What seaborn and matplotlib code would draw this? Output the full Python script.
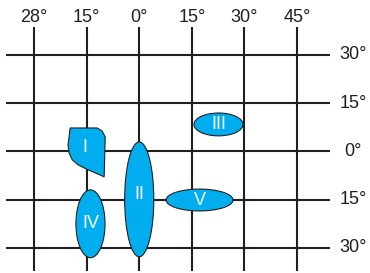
import matplotlib.pyplot as plt
import seaborn as sns
from matplotlib.patches import Ellipse, Polygon

# grid lines (longitude / latitude) and their labels
lon_ticks = [-30, -15, 0, 15, 30, 45]
lon_labels = ["28°", "15°", "0°", "15°", "30°", "45°"]
lat_ticks = [30, 15, 0, -15, -30]
lat_labels = ["30°", "15°", "0°", "15°", "30°"]

# elliptical regions
region_names = ["II", "III", "IV", "V"]
region_x = [0.0, 22.6, -13.9, 17.2]
region_y = [-14.9, 8.4, -22.5, -15.1]
region_w = [8.3, 14.0, 8.3, 19.1]
region_h = [35.7, 7.1, 21.1, 6.8]
label_y_shift = [1.4, 0.0, 0.0, 0.0]

# region I outline
region1_lon = [-19.7, -12.0, -10.6, -9.7, -10.0, -11.2, -14.6, -17.4, -19.1, -20.0, -20.3]
region1_lat = [7.3, 7.3, 6.4, 4.5, -7.9, -7.3, -5.7, -4.2, -2.6, -0.5, 2.0]
region1_label = (-15.4, 1.2)

sns.set_style("white")
plt.rcParams['font.family'] = ['Liberation Sans', 'DejaVu Sans']

fill = "#00aeef"
ink = "#231f20"

fig = plt.figure(figsize=(3.7, 2.73), dpi=100)
ax = fig.add_axes([0, 0, 1, 1])
ax.set_xlim(-39.7, 65.8)
ax.set_ylim(-37.8, 47.1)
ax.axis("off")

ax.vlines(lon_ticks, -37.1, 38.7, color=ink, lw=1.5, zorder=1)
ax.hlines(lat_ticks, -38.0, 54.4, color=ink, lw=1.5, zorder=1)

for x, lab in zip(lon_ticks, lon_labels):
    ax.text(x, 41.7, lab, ha="center", va="center", fontsize=13, color=ink)
for y, lab in zip(lat_ticks, lat_labels):
    ax.text(61.0, y, lab, ha="center", va="center", fontsize=13, color=ink)

for name, cx, cy, w, h, dy in zip(region_names, region_x, region_y, region_w, region_h, label_y_shift):
    ax.add_patch(Ellipse((cx, cy), w, h, facecolor=fill, edgecolor=ink, lw=0.8, zorder=2))
    ax.text(cx, cy + dy, name, ha="center", va="center", fontsize=13, color="white", zorder=3)

ax.add_patch(Polygon(list(zip(region1_lon, region1_lat)), closed=True,
                     facecolor=fill, edgecolor=ink, lw=0.8, zorder=2))
ax.text(region1_label[0], region1_label[1], "I", ha="center", va="center",
        fontsize=13, color="white", zorder=3)

fig.savefig("out.png", dpi=100)
